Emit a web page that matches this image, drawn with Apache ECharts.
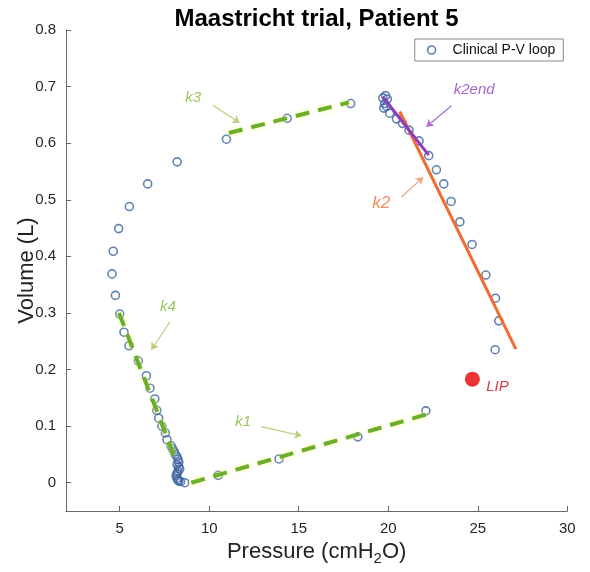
<!DOCTYPE html>
<html>
<head>
<meta charset="utf-8">
<script src="https://cdn.jsdelivr.net/npm/echarts@6/dist/echarts.min.js"></script>
<style>html,body{margin:0;padding:0;background:#fff}#c{width:590px;height:572px}</style>
</head>
<body>
<div id="c"></div>
<script>
// ---- data (Pressure cmH2O, Volume L) ----
const loopPressure = [8.63,10.5,13.9,18.3,22.1,
  25.97,26.17,25.99,25.45,24.68,24.0,23.51,23.1,22.69,22.26,21.72,21.16,20.79,20.46,20.08,
  19.9,19.75,19.8,19.85,19.95,19.7,
  17.9,14.35,10.96,
  8.21,6.56,5.54,4.94,4.64,4.57,4.76,5.0,5.24,5.52,6.04,6.49,6.69,6.96,7.07,7.18,7.35,7.55,7.64,7.87,
  7.95,8.05,8.1,8.2,8.25,8.3,8.2,8.3,8.35,8.25,8.2,8.15,8.2,8.25,8.3,8.4];
const loopVolume = [0.0,0.013,0.042,0.081,0.127,
  0.235,0.286,0.326,0.367,0.421,0.461,0.497,0.528,0.553,0.578,0.604,0.623,0.635,0.643,0.653,
  0.665,0.662,0.670,0.684,0.678,0.680,
  0.670,0.644,0.607,
  0.567,0.528,0.488,0.449,0.409,0.369,0.331,0.298,0.266,0.242,0.215,0.189,0.167,0.148,0.128,0.114,0.100,0.088,0.076,0.065,
  0.060,0.055,0.050,0.046,0.041,0.036,0.032,0.028,0.024,0.020,0.016,0.012,0.008,0.005,0.003,0.002];

const k1Line = [[9.0, 0.0], [22.5, 0.124]];
const k3Line = [[11.1, 0.618], [17.8, 0.672]];
const k4Line = [[4.96, 0.300], [8.07, 0.045]];
const k2Line = [[20.64, 0.656], [27.13, 0.236]];
const k2endLine = [[19.69, 0.682], [22.26, 0.579]];
const lipPoint = [24.70, 0.183];

const labelNames = ['k3', 'k4', 'k1', 'k2', 'k2end', 'LIP'];
const labelPos = [[9.1, 0.681], [7.69, 0.311], [11.9, 0.108], [19.6, 0.494], [24.8, 0.694], [26.1, 0.170]];
const arrowFrom = [[10.2, 0.667], [7.8, 0.284], [12.9, 0.099], [20.74, 0.505], [23.53, 0.666]];
const arrowTo   = [[11.7, 0.636], [6.77, 0.235], [15.15, 0.083], [21.95, 0.540], [22.13, 0.629]];

const xTicks = [5, 10, 15, 20, 25, 30];
const yTicks = [0, 0.1, 0.2, 0.3, 0.4, 0.5, 0.6, 0.7, 0.8];

// ---- styles ----
const GREEN = '#6aae2a', GREEN_T = '#7cb82f', ORANGE = '#f26b30', PURPLE = '#8b3dbf', RED = '#e60000';
const labelColors = [GREEN_T, GREEN_T, GREEN_T, ORANGE, PURPLE, '#d0001a'];
const arrowColors = ['#b5cf7a', '#b5cf7a', '#b5cf7a', '#f3a27c', '#a66fd0'];
const MARK = '#3b63a0';
const FONT = '"Liberation Sans", Arial, sans-serif';

const chart = echarts.init(document.getElementById('c'), null, {renderer: 'canvas'});

const dashed = (data, name) => ({
  type: 'line', name, data, symbol: 'none', silent: true, z: 3,
  lineStyle: {color: GREEN, width: 4, type: [14, 9], shadowColor: 'rgba(250,250,150,0.9)', shadowBlur: 4}
});

chart.setOption({
  animation: false,
  grid: {left: 66, right: 22.7, top: 30, bottom: 61, containLabel: false, outerBoundsMode: 'none'},
  graphic: [{
    type: 'text', x: 316.5, y: 19,
    style: {text: 'Maastricht trial, Patient 5', font: 'bold 24px ' + FONT,
      fill: '#000', align: 'center', verticalAlign: 'middle'}
  }],
  legend: {
    right: 26.7, top: 39, orient: 'horizontal',
    padding: [4, 8, 4, 12], itemWidth: 14, itemHeight: 8, itemGap: 0,
    borderColor: '#8a8a8a', borderWidth: 1, backgroundColor: '#fff',
    textStyle: {fontSize: 14, color: '#111', fontFamily: FONT, padding: [0, 0, 0, 9]},
    data: [{name: 'Clinical P-V loop', icon: 'circle',
      itemStyle: {color: 'rgba(0,0,0,0)', borderColor: MARK, borderWidth: 1.6}}]
  },
  xAxis: {
    type: 'value', min: 2, max: 30,
    name: '{a|Pressure (cmH}{s|2}{a|O)}', nameLocation: 'middle', nameGap: 26, nameMoveOverlap: false,
    nameTextStyle: {rich: {
      a: {fontSize: 22, color: '#222', fontFamily: FONT},
      s: {fontSize: 15, color: '#222', fontFamily: FONT, padding: [14, 0, 0, 0]}
    }},
    axisLine: {show: true, onZero: false, lineStyle: {color: '#666', width: 1}},
    axisTick: {show: true, inside: true, length: 5, customValues: xTicks, lineStyle: {color: '#666'}},
    axisLabel: {customValues: xTicks, fontSize: 15, color: '#262626', margin: 10, fontFamily: FONT},
    splitLine: {show: false}
  },
  yAxis: {
    type: 'value', min: -0.05, max: 0.8,
    name: 'Volume (L)', nameLocation: 'middle', nameGap: 28, nameRotate: 90, nameMoveOverlap: false,
    nameTextStyle: {fontSize: 22, color: '#222', fontFamily: FONT},
    axisLine: {show: true, onZero: false, lineStyle: {color: '#666', width: 1}},
    axisTick: {show: true, inside: true, length: 5, customValues: yTicks, lineStyle: {color: '#666'}},
    axisLabel: {customValues: yTicks, fontSize: 15, color: '#262626', margin: 10, fontFamily: FONT},
    splitLine: {show: false}
  },
  series: [
    {
      type: 'scatter', name: 'Clinical P-V loop', z: 2,
      data: loopPressure.map((p, i) => [p, loopVolume[i]]),
      symbol: 'circle', symbolSize: 8,
      itemStyle: {color: 'rgba(0,0,0,0)', borderColor: MARK, borderWidth: 1.6}
    },
    dashed(k1Line, 'k1line'),
    dashed(k3Line, 'k3line'),
    dashed(k4Line, 'k4line'),
    {type: 'line', name: 'k2line', data: k2Line, symbol: 'none', z: 4,
      lineStyle: {color: ORANGE, width: 3}},
    {type: 'line', name: 'k2endline', data: k2endLine, symbol: 'none', z: 5,
      lineStyle: {color: PURPLE, width: 3}},
    {type: 'scatter', name: 'LIP', data: [lipPoint], symbolSize: 15, z: 6,
      itemStyle: {color: RED}},
    {type: 'lines', coordinateSystem: 'cartesian2d', z: 6, silent: true,
      symbol: ['none', 'arrow'], symbolSize: 7,
      data: arrowFrom.map((f, i) => ({coords: [f, arrowTo[i]],
        lineStyle: {color: arrowColors[i], width: 1.2, opacity: 1}}))},
    {type: 'scatter', name: 'labels', symbolSize: 0, z: 7, silent: true,
      data: labelNames.map((n, i) => ({value: labelPos[i], name: n,
        label: {show: true, position: 'inside', formatter: n, fontStyle: 'italic',
          fontSize: n === 'k2' ? 17 : 15, color: labelColors[i], fontFamily: FONT}}))}
  ]
});
</script>
</body>
</html>
